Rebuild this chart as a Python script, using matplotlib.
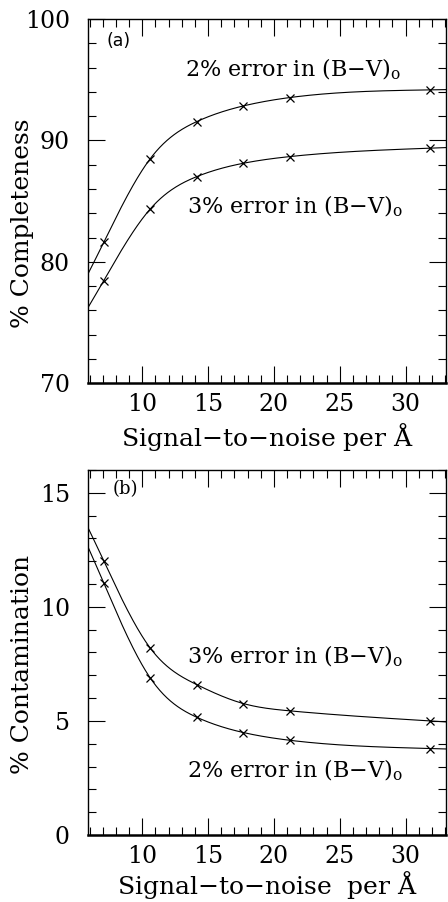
import numpy as np
import matplotlib
matplotlib.use('Agg')
import matplotlib.pyplot as plt
from matplotlib.ticker import MultipleLocator

plt.rcParams['font.family'] = 'serif'
plt.rcParams['font.serif'] = ['DejaVu Serif']
plt.rcParams['mathtext.fontset'] = 'dejavuserif'
plt.rcParams['axes.unicode_minus'] = False

# signal-to-noise per Angstrom of the simulated spectra
sn = [7.07, 10.61, 14.14, 17.68, 21.21, 31.82]

# (a) completeness, per cent
comp_2 = [81.6, 88.5, 91.55, 92.84, 93.53, 94.16]
comp_3 = [78.45, 84.36, 87.02, 88.12, 88.67, 89.36]

# (b) contamination, per cent
cont_3 = [12.02, 8.19, 6.59, 5.76, 5.44, 5.00]
cont_2 = [11.05, 6.88, 5.16, 4.49, 4.15, 3.79]

xlim = (5.88, 33.06)


def smooth(x, y, xs):
    # natural cubic spline through the points
    x = np.asarray(x, float)
    y = np.asarray(y, float)
    n = len(x)
    h = np.diff(x)
    A = np.zeros((n, n))
    r = np.zeros(n)
    A[0, 0] = A[-1, -1] = 1
    for i in range(1, n - 1):
        A[i, i - 1] = h[i - 1]
        A[i, i] = 2 * (h[i - 1] + h[i])
        A[i, i + 1] = h[i]
        r[i] = 3 * ((y[i + 1] - y[i]) / h[i] - (y[i] - y[i - 1]) / h[i - 1])
    c = np.linalg.solve(A, r)
    b = (y[1:] - y[:-1]) / h - h * (2 * c[:-1] + c[1:]) / 3
    d = (c[1:] - c[:-1]) / (3 * h)
    idx = np.clip(np.searchsorted(x, xs) - 1, 0, n - 2)
    t = xs - x[idx]
    return y[idx] + b[idx] * t + c[idx] * t ** 2 + d[idx] * t ** 3


xs = np.linspace(xlim[0], xlim[1], 400)
lab_2 = r'2% error in (B$-$V)$_{\mathrm{o}}$'
lab_3 = r'3% error in (B$-$V)$_{\mathrm{o}}$'

fig = plt.figure(figsize=(4.48, 9.02), dpi=100)
ax1 = fig.add_axes([0.1964, 0.575, 0.799, 0.404])
ax2 = fig.add_axes([0.1964, 0.0743, 0.799, 0.4047])


def style(ax, ymin, ymax, major, minor):
    ax.set_xlim(*xlim)
    ax.set_ylim(ymin, ymax)
    ax.xaxis.set_major_locator(MultipleLocator(5))
    ax.xaxis.set_minor_locator(MultipleLocator(1))
    ax.yaxis.set_major_locator(MultipleLocator(major))
    ax.yaxis.set_minor_locator(MultipleLocator(minor))
    ax.tick_params(which='both', direction='in', top=True, right=True,
                   width=0.8, labelsize=17)
    ax.tick_params(which='major', length=12.5)
    ax.tick_params(which='minor', length=6)
    ax.tick_params(axis='y', pad=13)
    ax.tick_params(axis='x', pad=7)
    for s in ax.spines.values():
        s.set_linewidth(1.0)
    ax.spines['bottom'].set_linewidth(1.8)


for ax, (a, b) in [(ax1, (comp_2, comp_3)), (ax2, (cont_3, cont_2))]:
    for vals in (a, b):
        ax.plot(xs, smooth(sn, vals, xs), color='black', lw=0.8)
        ax.plot(sn, vals, ls='none', marker='x', ms=5.5, mew=0.9, color='black')

style(ax1, 70, 100, 10, 2)
style(ax2, 0, 16, 5, 1)

ax1.set_ylabel('% Completeness', fontsize=18, va='center', rotation_mode='default')
ax1.yaxis.set_label_coords(-0.182, 0.44)
ax2.set_ylabel('% Contamination', fontsize=18, va='center', rotation_mode='default')
ax2.yaxis.set_label_coords(-0.182, 0.466)

ax1.set_xlabel(r'Signal$-$to$-$noise per $\mathrm{\AA}$', fontsize=18, va='center')
ax1.xaxis.set_label_coords(0.5, -0.147)
ax2.set_xlabel(r'Signal$-$to$-$noise  per $\mathrm{\AA}$', fontsize=18, va='bottom')
ax2.xaxis.set_label_coords(0.5, -0.18)

ax1.text(13.25, 95.3, lab_2, fontsize=16, ha='left', va='baseline')
ax1.text(13.37, 84.03, lab_3, fontsize=16, ha='left', va='baseline')
ax2.text(13.37, 7.52, lab_3, fontsize=16, ha='left', va='baseline')
ax2.text(13.37, 2.51, lab_2, fontsize=16, ha='left', va='baseline')

ax1.text(0.052, 0.965, '(a)', transform=ax1.transAxes, fontsize=12.5,
         family='DejaVu Sans', ha='left', va='top')
ax2.text(0.07, 0.973, '(b)', transform=ax2.transAxes, fontsize=13,
         ha='left', va='top')

fig.savefig('out.png', dpi=100)
